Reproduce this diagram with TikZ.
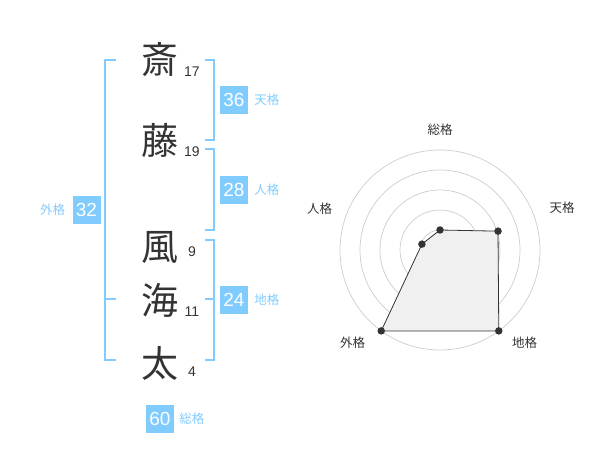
\documentclass[tikz,border=0pt]{standalone}
\usepackage{fontspec}
\setmainfont{Liberation Sans}
\newfontfamily\jp{Noto Sans CJK JP}
\usepackage{xcolor}
\usepackage{tikz}
\usetikzlibrary{positioning}
\definecolor{kakublue}{HTML}{80CCFF}
\definecolor{ink}{HTML}{333333}

\begin{document}
\begin{tikzpicture}[x=1pt,y=-1pt]
\tikzstyle{kanji}=[text=ink,font=\jp\fontsize{37}{37}\selectfont,inner sep=0pt]
\tikzstyle{strokes}=[text=ink,font=\fontsize{14}{14}\selectfont,inner sep=0pt]
\tikzstyle{score}=[fill=kakublue,text=white,minimum size=28pt,inner sep=0pt,font=\fontsize{19}{19}\selectfont]
\tikzstyle{kaku}=[text=kakublue,font=\jp\fontsize{12.5}{12.5}\selectfont,inner sep=0pt]
\tikzstyle{bracket}=[draw=kakublue,line width=2pt]
\tikzstyle{ring}=[draw=black!20,line width=0.7pt]
\tikzstyle{dot}=[circle,fill=ink,minimum size=7.5pt,inner sep=0pt]
\tikzstyle{axislabel}=[text=ink,font=\jp\fontsize{12.5}{12.5}\selectfont,inner sep=0pt]
\useasboundingbox (0,0) rectangle (600,470);
% name
\foreach \pos/\name/\ch in {{(160,60)/k_1/斎},{(160,140)/k_2/藤},{(160,247)/k_3/風},{(160,300)/k_4/海},{(160,363)/k_5/太}}
  \node[kanji] (\name) at \pos {\ch};
\foreach \pos/\name/\n in {{(192,72)/n_1/17},{(192,152)/n_2/19},{(192,252)/n_3/9},{(192,312)/n_4/11},{(192,372)/n_5/4}}
  \node[strokes] (\name) at \pos {\n};
% brackets
\draw[bracket] (116,60) -- (105,60) -- (105,360) -- (116,360);
\draw[bracket] (105,299) -- (116,299);
\draw[bracket] (205,60) -- (214,60) -- (214,140) -- (205,140);
\draw[bracket] (205,149) -- (214,149) -- (214,230) -- (205,230);
\draw[bracket] (205,240) -- (214,240) -- (214,360) -- (205,360);
\draw[bracket] (205,299) -- (214,299);
% scores
\node[score] (ten) at (234,100) {36};
\node[kaku,right=6pt of ten] (ten_l) {天格};
\node[score] (jin) at (234,190) {28};
\node[kaku,right=6pt of jin] (jin_l) {人格};
\node[score] (chi) at (234,300) {24};
\node[kaku,right=6pt of chi] (chi_l) {地格};
\node[score] (gai) at (86.5,210) {32};
\node[kaku,left=7pt of gai] (gai_l) {外格};
\node[score] (sou) at (160,419) {60};
\node[kaku,right=5pt of sou] (sou_l) {総格};
% radar
\coordinate (c) at (440,250);
\foreach \r in {20,40,60,80,100}
  \draw[ring] (c) circle (\r pt);
\node[circle,fill=black!20,minimum size=7pt,inner sep=0pt] at (c) {};
\foreach \ang/\rad/\name in {90/20/p_1,18/61/p_2,-54/100/p_3,-126/100/p_4,162/19/p_5}
  \coordinate (\name) at ([shift={(\ang:\rad pt)}]c);
\path[draw=ink,fill=black!6,line width=0.8pt] (p_1) -- (p_2) -- (p_3) -- (p_4) -- (p_5) -- cycle;
\foreach \name in {p_1,p_2,p_3,p_4,p_5}
  \node[dot] at (\name) {};
\node[axislabel] (a_1) at (440,130) {総格};
\node[axislabel] (a_2) at (562,208) {天格};
\node[axislabel] (a_3) at (524.5,343) {地格};
\node[axislabel] (a_4) at (352.5,343) {外格};
\node[axislabel] (a_5) at (319.5,209) {人格};
\end{tikzpicture}
\end{document}
